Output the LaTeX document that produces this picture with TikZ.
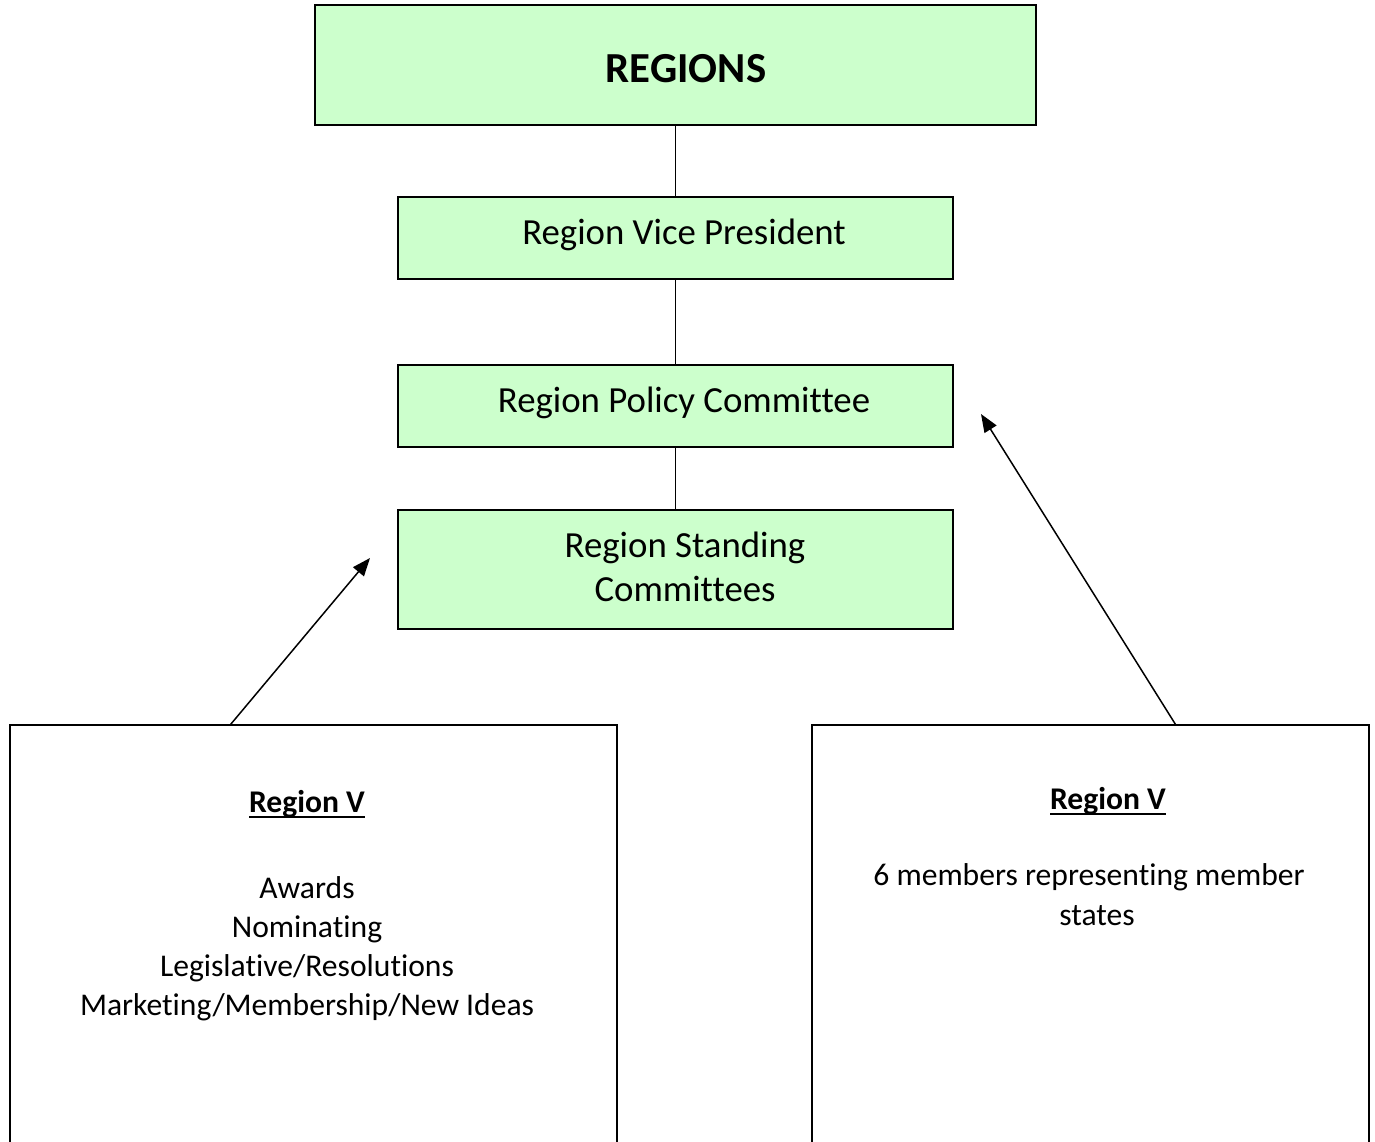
\documentclass[tikz,border=0pt]{standalone}
\usepackage{fontspec}
\setmainfont[Ligatures=NoCommon]{Carlito}
\usetikzlibrary{arrows.meta,calc}
\definecolor{boxgreen}{HTML}{CCFFCC}
\newcommand\myul[1]{\setbox0\hbox{#1}\rlap{\raisebox{-6pt}{\rule{\wd0}{2.4pt}}}\box0}
\begin{document}
\begin{tikzpicture}[x=1pt,y=-1pt,
  gbox/.style={draw=black, fill=boxgreen, line width=1.5pt, inner sep=0pt},
  wbox/.style={draw=black, fill=white, line width=1.5pt, inner sep=0pt},
  link/.style={line width=1.5pt},
  arr/.style={line width=1.5pt, -{Triangle[length=18pt,width=14pt]}},
  bigtxt/.style={anchor=base, inner sep=0pt, font=\fontsize{36.8}{44}\selectfont},
  smalltxt/.style={anchor=base, inner sep=0pt, font=\fontsize{31.6}{38}\selectfont},
  titletxt/.style={anchor=base, inner sep=0pt, font=\fontsize{42.8}{50}\selectfont\bfseries}]
\useasboundingbox (0,0) rectangle (1375,1141);
\clip (0,0) rectangle (1375,1141);
% green boxes
\node[gbox, minimum width=721pt, minimum height=120pt] (regions) at (675.5,65) {};
\node[gbox, minimum width=555pt, minimum height=82pt] (vp) at (675.5,238) {};
\node[gbox, minimum width=555pt, minimum height=82pt] (policy) at (675.5,406) {};
\node[gbox, minimum width=555pt, minimum height=119pt] (standing) at (675.5,569.5) {};
% white boxes (cut off at the bottom)
\node[wbox, minimum width=607pt, minimum height=475pt] (lbox) at (313.5,962.5) {};
\node[wbox, minimum width=557pt, minimum height=475pt] (rbox) at (1090.5,962.5) {};
% connectors
\draw[link] (regions.south) -- (vp.north);
\draw[link] (vp.south) -- (policy.north);
\draw[link] (policy.south) -- (standing.north);
\coordinate (ltip) at (370,558);
\coordinate (rtip) at (981,414);
\draw[arr] ($(lbox.north west)!0.364!(lbox.north east)$) -- (ltip);
\draw[arr] ($(rbox.north west)!0.652!(rbox.north east)$) -- (rtip);
% texts
\node[titletxt] (t1) at (686,82) {REGIONS};
\node[bigtxt] (t2) at (684,244) {Region Vice President};
\node[bigtxt] (t3) at (684,412) {Region Policy Committee};
\node[bigtxt] (t4) at (685,557) {Region Standing};
\node[bigtxt] (t5) at (685,601) {Committees};
\node[smalltxt] (l0) at (307,812) {\bfseries\myul{Region V}};
\node[smalltxt] (l1) at (307,898) {Awards};
\node[smalltxt] (l2) at (307,937) {Nominating};
\node[smalltxt] (l3) at (307,976) {Legislative/Resolutions};
\node[smalltxt] (l4) at (307,1015) {Marketing/Membership/New Ideas};
\node[smalltxt] (r0) at (1108,809) {\bfseries\myul{Region V}};
\node[smalltxt] (r1) at (1089,885) {6 members representing member};
\node[smalltxt] (r2) at (1097,925) {states};
\end{tikzpicture}
\end{document}
